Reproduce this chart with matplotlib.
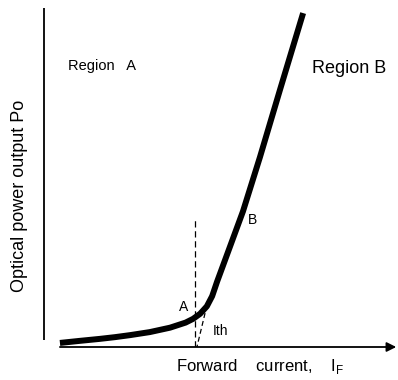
import matplotlib
matplotlib.use('Agg')
import matplotlib.pyplot as plt

plt.rcParams['font.family'] = ['Liberation Sans', 'DejaVu Sans']

# L-I characteristic (arbitrary units, 0..100 on both axes)
current = [4.5, 10.0, 15.8, 20.0, 24.3, 29.9, 35.6, 40.0, 42.1, 44.1, 46.0, 47.5,
           48.9, 52.5, 56.2, 61.0, 66.7, 73.2]
power = [1.2, 1.8, 2.4, 2.9, 3.5, 4.4, 5.7, 7.2, 8.3, 9.8, 12.0, 15.0,
         19.3, 29.5, 40.0, 56.0, 76.0, 98.5]

# threshold construction
i_th = 42.7
guide_top = 38.3
tangent_x = [45.5, 43.2]
tangent_y = [10.0, 0.0]

fig = plt.figure(figsize=(3.98, 3.80), dpi=100)
ax = fig.add_axes([44 / 398, 1 - 347 / 380, 354 / 398, 339 / 380])
ax.set_xlim(0, 100)
ax.set_ylim(0, 100)
ax.axis('off')

# axes
ax.plot([0, 0], [2.1, 100], color='black', lw=1.3, solid_capstyle='butt', clip_on=False)
ax.annotate('', xy=(99.5, 0), xytext=(4.5, 0),
            arrowprops=dict(arrowstyle='-|>', color='black', lw=1.3,
                            mutation_scale=14, shrinkA=0, shrinkB=0),
            annotation_clip=False)

# curve
ax.plot(current, power, color='black', lw=4.3, solid_capstyle='butt',
        solid_joinstyle='round', clip_on=False)

# dashed guides
ax.plot([i_th, i_th], [0, guide_top], color='black', lw=0.9, ls=(0, (5, 3)))
ax.plot(tangent_x, tangent_y, color='black', lw=0.9, ls=(0, (4, 2.5)))

ax.text(47.7, 4.7, 'Ith', fontsize=10, va='center', ha='left')
ax.text(39.3, 11.8, 'A', fontsize=10, va='center', ha='center')
ax.text(58.8, 37.5, 'B', fontsize=10, va='center', ha='center')
ax.text(6.8, 82.9, 'Region   A', fontsize=10.5, va='center', ha='left')
ax.text(75.7, 82.3, 'Region B', fontsize=13, va='center', ha='left')

fig.text(20 / 398, 1 - 196 / 380, 'Optical power output Po', rotation=90,
         fontsize=13, va='center', ha='center')
fig.text(176 / 398, 1 - 366 / 380, r'Forward    current,    I$_\mathregular{F}$',
         fontsize=12, va='center', ha='left')

fig.savefig('out.png', dpi=100)
